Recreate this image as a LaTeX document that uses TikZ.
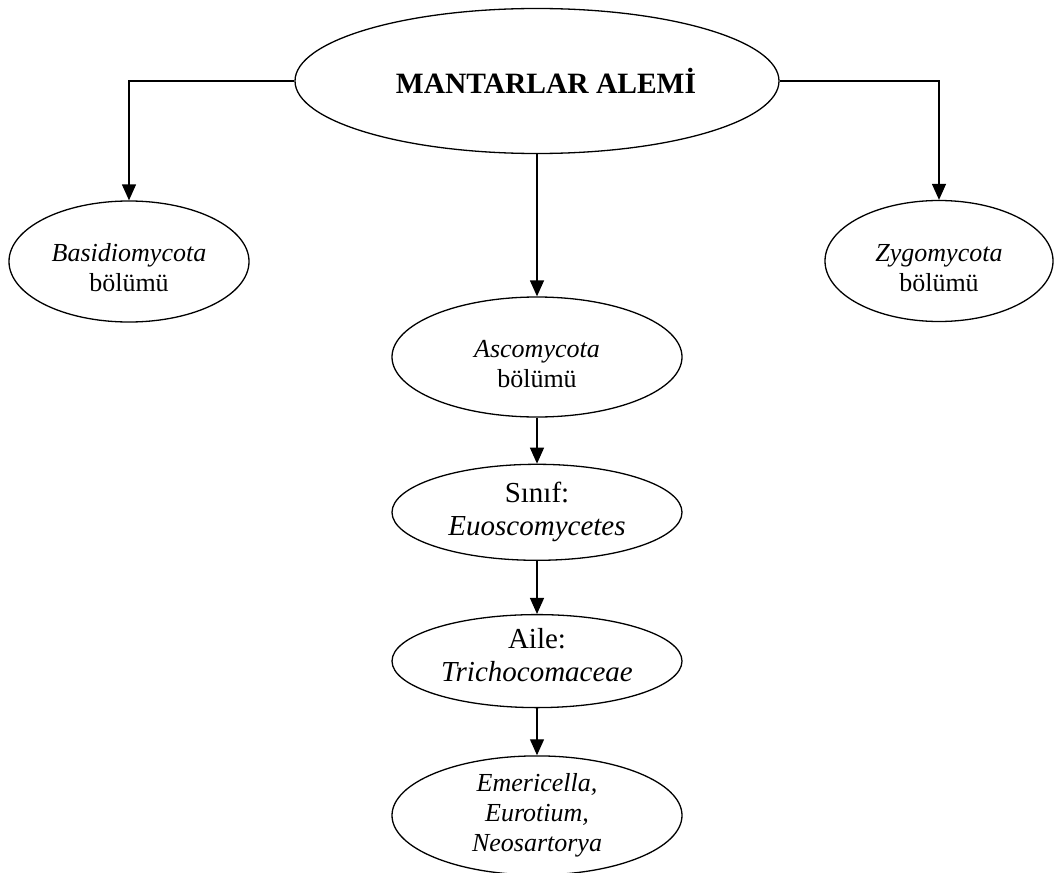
\documentclass[tikz,border=0pt]{standalone}
\usepackage{fontspec}
\setmainfont{Liberation Serif}
\usetikzlibrary{arrows.meta,positioning,shapes.geometric}
\tikzset{
  mkoval/.style={draw, ellipse, line width=1.3pt, inner sep=0pt, align=center, minimum width=290pt, font=\fontsize{26}{30}\selectfont},
  mkbig/.style={font=\fontsize{29}{33}\selectfont},
  mkarr/.style={-{Triangle[length=16pt,width=14pt]}, line width=1.3pt}
}
\newcommand{\mkup}{\rule{0pt}{31pt}}
\newcommand{\mkdown}{\rule[-12pt]{0pt}{0pt}}
\begin{document}
\begin{tikzpicture}[x=1pt, y=-1pt]
  \useasboundingbox (0,0) rectangle (1059,872);
  \node[mkoval, minimum width=484pt, minimum height=145pt, font=\fontsize{29.5}{34}\selectfont\bfseries] (alem) at (537,81) {\hspace*{18pt}MANTARLAR ALEMİ};
  \node[mkoval, minimum width=240pt, minimum height=121pt] (basid) at (129,261.5) {\mkup\textit{Basidiomycota}\\bölümü};
  \node[mkoval, minimum width=228pt, minimum height=121pt] (zygo) at (939,261) {\mkup\textit{Zygomycota}\\bölümü};
  \node[mkoval, minimum height=120pt] (asco) at (537,357) {\mkup\textit{Ascomycota}\\bölümü};
  \node[mkoval, mkbig, minimum height=96pt, below=46pt of asco] (sinif) {Sınıf:\\\textit{Euoscomycetes}};
  \node[mkoval, mkbig, minimum height=93pt, below=53pt of sinif] (aile) {Aile:\\\textit{Trichocomaceae}\mkdown};
  \node[mkoval, minimum height=119pt, below=47pt of aile] (cins) {\textit{Emericella,}\\\textit{Eurotium,}\\\textit{Neosartorya}};
  \draw[mkarr] (alem.west) -| (basid.north);
  \draw[mkarr] (alem.east) -| (zygo.north);
  \draw[mkarr] (alem.south) -- (asco.north);
  \draw[mkarr] (asco) -- (sinif);
  \draw[mkarr] (sinif) -- (aile);
  \draw[mkarr] (aile) -- (cins);
\end{tikzpicture}
\end{document}
